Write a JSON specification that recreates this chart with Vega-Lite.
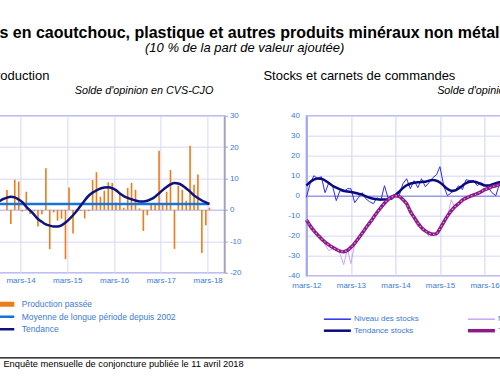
{
 "$schema": "https://vega.github.io/schema/vega-lite/v6.json",
 "background": "white",
 "padding": {"left": -57.6, "top": 24.7, "right": 0, "bottom": 0},
 "config": {
  "font": "Liberation Sans",
  "view": {"stroke": "#b4b4f0", "strokeWidth": 1.5},
  "axis": {"labelFont": "Liberation Sans", "labelFontSize": 8, "labelColor": "#3a7bd5", "gridColor": "#d6d6fa", "gridWidth": 1, "tickColor": "#a0a0b8", "titleFont": "Liberation Sans", "labelFlush": false, "labelOverlap": false},
  "title": {"font": "Liberation Sans", "color": "#000000", "subtitleColor": "#000000", "subtitleFont": "Liberation Sans"},
  "legend": {"labelFont": "Liberation Sans", "labelFontSize": 8.5, "labelColor": "#3a7bd5", "padding": 0, "symbolType": "M-6.75,0H6.75", "symbolSize": 16, "titlePadding": 0, "gridAlign": "all"}
 },
 "datasets": {
  "prod": [
   {"d":"2013-11-15","v":6.3},{"d":"2013-12-15","v":-4.5},{"d":"2014-01-15","v":9.6},{"d":"2014-02-15","v":9.0},
   {"d":"2014-03-15","v":-0.5},{"d":"2014-04-15","v":5.8},{"d":"2014-05-15","v":-1.3},{"d":"2014-06-15","v":-0.4},
   {"d":"2014-07-15","v":-5.3},{"d":"2014-08-15","v":-1.4},{"d":"2014-09-15","v":13.3},{"d":"2014-10-15","v":-12.5},
   {"d":"2014-11-15","v":-0.8},{"d":"2014-12-15","v":-3.4},{"d":"2015-01-15","v":-2.8},{"d":"2015-02-15","v":-15.7},
   {"d":"2015-03-15","v":7.1},{"d":"2015-04-15","v":-7.5},{"d":"2015-05-15","v":0.4},{"d":"2015-06-15","v":-0.3},
   {"d":"2015-07-15","v":-2.7},{"d":"2015-08-15","v":-0.4},{"d":"2015-09-15","v":9.5},{"d":"2015-10-15","v":12.0},
   {"d":"2015-11-15","v":4.2},{"d":"2015-12-15","v":6.1},{"d":"2016-01-15","v":8.8},{"d":"2016-02-15","v":8.6},
   {"d":"2016-03-15","v":2.3},{"d":"2016-04-15","v":5.3},{"d":"2016-05-15","v":0.7},{"d":"2016-06-15","v":7.0},
   {"d":"2016-07-15","v":8.6},{"d":"2016-08-15","v":6.4},{"d":"2016-09-15","v":0.5},{"d":"2016-10-15","v":-6.7},
   {"d":"2016-11-15","v":-1.7},{"d":"2016-12-15","v":1.7},{"d":"2017-01-15","v":1.7},{"d":"2017-02-15","v":18.8},
   {"d":"2017-03-15","v":1.5},{"d":"2017-04-15","v":5.8},{"d":"2017-05-15","v":12.7},{"d":"2017-06-15","v":-12.4},
   {"d":"2017-07-15","v":7.7},{"d":"2017-08-15","v":6.4},{"d":"2017-09-15","v":2.9},{"d":"2017-10-15","v":20.4},
   {"d":"2017-11-15","v":8.0},{"d":"2017-12-15","v":11.3},{"d":"2018-01-15","v":-13.7},{"d":"2018-02-15","v":-4.9},
   {"d":"2018-03-15","v":0.7}
  ],
  "tend": [
   {"d":"2013-09-15","v":2.7},{"d":"2013-10-15","v":3.4},{"d":"2013-11-15","v":3.9},{"d":"2013-12-15","v":4.2},
   {"d":"2014-01-15","v":4.0},{"d":"2014-02-15","v":3.3},{"d":"2014-03-15","v":2.5},{"d":"2014-04-15","v":1.0},
   {"d":"2014-05-15","v":-0.2},{"d":"2014-06-15","v":-1.5},{"d":"2014-07-15","v":-2.9},{"d":"2014-08-15","v":-3.8},
   {"d":"2014-09-15","v":-4.6},{"d":"2014-10-15","v":-5.0},{"d":"2014-11-15","v":-5.3},{"d":"2014-12-15","v":-5.3},
   {"d":"2015-01-15","v":-4.9},{"d":"2015-02-15","v":-4.0},{"d":"2015-03-15","v":-3.0},{"d":"2015-04-15","v":-1.7},
   {"d":"2015-05-15","v":-0.3},{"d":"2015-06-15","v":1.4},{"d":"2015-07-15","v":3.0},{"d":"2015-08-15","v":4.5},
   {"d":"2015-09-15","v":5.5},{"d":"2015-10-15","v":6.2},{"d":"2015-11-15","v":6.8},{"d":"2015-12-15","v":7.1},
   {"d":"2016-01-15","v":7.2},{"d":"2016-02-15","v":6.9},{"d":"2016-03-15","v":6.3},{"d":"2016-04-15","v":5.2},
   {"d":"2016-05-15","v":4.4},{"d":"2016-06-15","v":3.8},{"d":"2016-07-15","v":3.4},{"d":"2016-08-15","v":3.0},
   {"d":"2016-09-15","v":2.7},{"d":"2016-10-15","v":2.7},{"d":"2016-11-15","v":2.9},{"d":"2016-12-15","v":3.4},
   {"d":"2017-01-15","v":4.2},{"d":"2017-02-15","v":5.3},{"d":"2017-03-15","v":6.3},{"d":"2017-04-15","v":7.3},
   {"d":"2017-05-15","v":8.1},{"d":"2017-06-15","v":8.6},{"d":"2017-07-15","v":8.4},{"d":"2017-08-15","v":7.8},
   {"d":"2017-09-15","v":6.8},{"d":"2017-10-15","v":5.8},{"d":"2017-11-15","v":4.6},{"d":"2017-12-15","v":3.8},
   {"d":"2018-01-15","v":3.0},{"d":"2018-02-15","v":2.4},{"d":"2018-03-15","v":1.9}
  ],
  "moy": [{"d":"2013-08-15","v":1.9},{"d":"2018-03-15","v":1.9}],
  "stk": [
   {"d":"2012-03-01","ns":-0.8,"ts":5.0,"nc":-12,"tc":-12.1},
   {"d":"2012-04-01","ns":6,"ts":6.8,"nc":-16.5,"tc":-15},
   {"d":"2012-05-01","ns":10,"ts":8.0,"nc":-18,"tc":-17.5},
   {"d":"2012-06-01","ns":8.5,"ts":8.6,"nc":-20.5,"tc":-19.6},
   {"d":"2012-07-01","ns":9.5,"ts":8.5,"nc":-19.8,"tc":-21.5},
   {"d":"2012-08-01","ns":1.5,"ts":7.6,"nc":-24.5,"tc":-23.2},
   {"d":"2012-09-01","ns":6.5,"ts":6.3,"nc":-27.5,"tc":-24.6},
   {"d":"2012-10-01","ns":5,"ts":5.0,"nc":-26.5,"tc":-25.8},
   {"d":"2012-11-01","ns":-2.5,"ts":4.0,"nc":-26,"tc":-26.9},
   {"d":"2012-12-01","ns":2.5,"ts":3.2,"nc":-29,"tc":-27.7},
   {"d":"2013-01-01","ns":2,"ts":2.5,"nc":-34.5,"tc":-28.0},
   {"d":"2013-02-01","ns":3.5,"ts":2.1,"nc":-26.5,"tc":-27.3},
   {"d":"2013-03-01","ns":3.5,"ts":1.9,"nc":-34,"tc":-25.8},
   {"d":"2013-04-01","ns":-3.5,"ts":1.5,"nc":-24,"tc":-23.8},
   {"d":"2013-05-01","ns":-1,"ts":1.0,"nc":-22,"tc":-21.4},
   {"d":"2013-06-01","ns":1.5,"ts":0.5,"nc":-18,"tc":-18.8},
   {"d":"2013-07-01","ns":-1.5,"ts":-0.3,"nc":-16.5,"tc":-16.2},
   {"d":"2013-08-01","ns":-3,"ts":-1.0,"nc":-13,"tc":-13.6},
   {"d":"2013-09-01","ns":-4,"ts":-1.5,"nc":-11.5,"tc":-11.0},
   {"d":"2013-10-01","ns":-1,"ts":-1.8,"nc":-8,"tc":-8.4},
   {"d":"2013-11-01","ns":-2.5,"ts":-1.9,"nc":-6.5,"tc":-6.0},
   {"d":"2013-12-01","ns":5,"ts":-1.9,"nc":-3,"tc":-3.8},
   {"d":"2014-01-01","ns":-1.5,"ts":-1.6,"nc":-2.5,"tc":-1.9},
   {"d":"2014-02-01","ns":-2,"ts":-0.9,"nc":-0.5,"tc":-0.6},
   {"d":"2014-03-01","ns":0,"ts":0.3,"nc":0.5,"tc":0},
   {"d":"2014-04-01","ns":0,"ts":2.0,"nc":-1,"tc":-0.4},
   {"d":"2014-05-01","ns":6,"ts":3.8,"nc":-1.5,"tc":-1.9},
   {"d":"2014-06-01","ns":8.5,"ts":5.2,"nc":-4.5,"tc":-4.0},
   {"d":"2014-07-01","ns":3.5,"ts":6.0,"nc":-7,"tc":-7.8},
   {"d":"2014-08-01","ns":7.5,"ts":6.4,"nc":-12,"tc":-10.8},
   {"d":"2014-09-01","ns":4,"ts":6.7,"nc":-15.5,"tc":-13.7},
   {"d":"2014-10-01","ns":8.5,"ts":6.9,"nc":-15.5,"tc":-16.0},
   {"d":"2014-11-01","ns":4.5,"ts":7.0,"nc":-17,"tc":-17.6},
   {"d":"2014-12-01","ns":6.5,"ts":7.5,"nc":-20.5,"tc":-18.7},
   {"d":"2015-01-01","ns":9,"ts":7.8,"nc":-18.5,"tc":-19.3},
   {"d":"2015-02-01","ns":10.5,"ts":7.5,"nc":-19.5,"tc":-19.0},
   {"d":"2015-03-01","ns":14.5,"ts":6.6,"nc":-16,"tc":-16.5},
   {"d":"2015-04-01","ns":5,"ts":5.0,"nc":-13,"tc":-13.2},
   {"d":"2015-05-01","ns":0,"ts":3.4,"nc":-11,"tc":-10.2},
   {"d":"2015-06-01","ns":1.5,"ts":2.5,"nc":-2,"tc":-7.6},
   {"d":"2015-07-01","ns":2.5,"ts":2.6,"nc":-6,"tc":-5.5},
   {"d":"2015-08-01","ns":5,"ts":3.6,"nc":-4.5,"tc":-4.0},
   {"d":"2015-09-01","ns":3,"ts":5.0,"nc":-3,"tc":-2.2},
   {"d":"2015-10-01","ns":8,"ts":6.3,"nc":-1,"tc":-1.2},
   {"d":"2015-11-01","ns":7.5,"ts":7.0,"nc":-0.5,"tc":-0.4},
   {"d":"2015-12-01","ns":7.5,"ts":7.1,"nc":0.5,"tc":0.4},
   {"d":"2016-01-01","ns":5,"ts":6.6,"nc":1,"tc":1.0},
   {"d":"2016-02-01","ns":6.5,"ts":5.8,"nc":2.5,"tc":2.0},
   {"d":"2016-03-01","ns":5.5,"ts":5.1,"nc":2.5,"tc":3.0},
   {"d":"2016-04-01","ns":4,"ts":5.1,"nc":4,"tc":3.6},
   {"d":"2016-05-01","ns":1.5,"ts":5.6,"nc":4.5,"tc":4.5},
   {"d":"2016-06-01","ns":0,"ts":6.2,"nc":5.5,"tc":5.0},
   {"d":"2016-07-01","ns":6,"ts":6.7,"nc":5,"tc":5.5},
   {"d":"2016-08-01","ns":8,"ts":7.0,"nc":7,"tc":6.3},
   {"d":"2016-09-01","ns":6,"ts":7.2,"nc":7,"tc":6.8},
   {"d":"2016-10-01","ns":7,"ts":7.3,"nc":7.5,"tc":7.0}
  ]
 },
 "spacing": 20.1,
 "vconcat": [
  {
   "title": {"text": "Produits en caoutchouc, plastique et autres produits minéraux non métalliques", "subtitle": "(10 % de la part de valeur ajoutée)", "anchor": "middle", "fontSize": 16, "fontWeight": "bold", "subtitleFontSize": 13, "subtitleFontStyle": "italic", "subtitleFontWeight": "normal", "subtitlePadding": 1, "offset": 15, "dx": -41.7},
   "spacing": 20,
   "resolve": {"scale": {"color": "independent"}, "legend": {"color": "independent"}},
   "hconcat": [
    {
     "width": 240, "height": 157,
     "title": {"text": "Production", "anchor": "start", "frame": "group", "dx": 2.9, "fontSize": 13, "fontWeight": "normal", "baseline": "alphabetic", "offset": -8.5},
     "encoding": {
      "x": {"field": "d", "type": "temporal",
            "scale": {"type": "utc", "domain": [{"year": 2013, "month": 7, "date": 1, "utc": true}, {"year": 2018, "month": 6, "date": 1, "utc": true}]},
            "axis": {"values": [{"year": 2014, "month": 3, "date": 1, "utc": true}, {"year": 2015, "month": 3, "date": 1, "utc": true}, {"year": 2016, "month": 3, "date": 1, "utc": true}, {"year": 2017, "month": 3, "date": 1, "utc": true}, {"year": 2018, "month": 3, "date": 1, "utc": true}],
                     "labelExpr": "'mars-' + utcFormat(datum.value, '%y')", "grid": true, "domain": false, "ticks": false, "labelPadding": 3.7, "title": null}},
      "y": {"field": "v", "type": "quantitative",
            "scale": {"domain": [-20, 30], "nice": false, "zero": false},
            "axis": {"orient": "right", "values": [-20, -10, 0, 10, 20, 30], "labelExpr": "'' + datum.value", "labelOverlap": false, "tickCount": 6,
                     "grid": true, "gridColor": {"condition": {"test": "datum.value === 0", "value": "#a8a8ec"}, "value": "#d6d6fa"},
                     "domain": true, "domainColor": "#a0a0b8", "domainWidth": 1.5, "ticks": true, "tickSize": 3,
                     "labelAlign": "left", "labelPadding": 2,
                     "title": "Solde d'opinion en CVS-CJO", "titleAngle": 0, "titleAlign": "right", "titleBaseline": "alphabetic",
                     "titleX": -11.5, "titleY": -21.7, "titleFontSize": 10.8, "titleFontStyle": "italic", "titleFontWeight": "normal", "titleColor": "#000000"}}
     },
     "layer": [
      {
       "data": {"name": "prod"},
       "mark": {"type": "bar", "color": "#EE7B16", "width": 1.6},
       "encoding": {}
      },
      {
       "data": {"name": "moy"},
       "mark": {"type": "line", "strokeWidth": 2.5},
       "encoding": {
        "color": {"datum": "Moyenne de longue période depuis 2002", "type": "nominal",
                  "scale": {"domain": ["Production passée", "Moyenne de longue période depuis 2002", "Tendance"], "range": ["#EE7B16", "#1673D8", "#0D1480"]},
                  "legend": {"orient": "none", "legendX": 12.1, "legendY": 184.3, "title": null, "direction": "vertical", "labelOffset": 16.8, "rowPadding": 3.5,
                             "encode": {"symbols": {"update": {"strokeJoin": {"value": "round"}, "strokeWidth": {"signal": "datum.value === 'Production passée' ? 5 : 2.5"}}}}}}
       }
      },
      {
       "data": {"name": "tend"},
       "mark": {"type": "line", "strokeWidth": 2.5, "interpolate": "monotone"},
       "encoding": {
        "color": {"datum": "Tendance", "type": "nominal"}
       }
      }
     ]
    },
    {
     "width": 277, "height": 160,
     "title": {"text": "Stocks et carnets de commandes", "anchor": "start", "frame": "group", "dx": -43, "fontSize": 13, "fontWeight": "normal", "baseline": "alphabetic", "offset": -8.5},
     "data": {"name": "stk"},
     "transform": [{"fold": ["ns", "ts", "nc", "tc"], "as": ["s", "v"]}],
     "encoding": {
      "x": {"field": "d", "type": "temporal",
            "scale": {"type": "utc", "domain": [{"year": 2012, "month": 3, "date": 1, "utc": true}, {"year": 2018, "month": 5, "date": 20, "utc": true}]},
            "axis": {"values": [{"year": 2012, "month": 3, "date": 1, "utc": true}, {"year": 2013, "month": 3, "date": 1, "utc": true}, {"year": 2014, "month": 3, "date": 1, "utc": true}, {"year": 2015, "month": 3, "date": 1, "utc": true}, {"year": 2016, "month": 3, "date": 1, "utc": true}, {"year": 2017, "month": 3, "date": 1, "utc": true}, {"year": 2018, "month": 3, "date": 1, "utc": true}],
                     "labelExpr": "'mars-' + utcFormat(datum.value, '%y')", "grid": true, "gridColor": "#d0d0f8", "domain": false, "ticks": false, "labelPadding": 5.4, "title": null}},
      "y": {"field": "v", "type": "quantitative",
            "scale": {"domain": [-40, 40], "nice": false},
            "axis": {"orient": "left", "values": [-40, -30, -20, -10, 0, 10, 20, 30, 40], "labelExpr": "'' + datum.value",
                     "grid": true, "gridColor": {"condition": {"test": "datum.value === 0", "value": "#9a9ae8"}, "value": "#d6d6fa"},
                     "gridWidth": {"condition": {"test": "datum.value === 0", "value": 1.5}, "value": 1},
                     "domain": true, "domainColor": "#a6a6f0", "domainWidth": 2, "ticks": false, "labelPadding": 7,
                     "title": "Solde d'opinion en CVS-CJO", "titleAngle": 0, "titleAlign": "right", "titleBaseline": "alphabetic",
                     "titleX": 269, "titleY": -21.7, "titleFontSize": 10.8, "titleFontStyle": "italic", "titleFontWeight": "normal", "titleColor": "#000000"}}
     },
     "layer": [
      {
       "transform": [{"filter": "datum.s === 'ns'"}],
       "mark": {"type": "line", "strokeWidth": 1},
       "encoding": {"color": {"datum": "Niveau des stocks", "type": "nominal",
                   "scale": {"domain": ["Niveau des stocks", "Tendance stocks", "Niveau des carnets", "Tendance carnets"], "range": ["#2b2bf0", "#0a0a7a", "#c9a6f2", "#8a1c88"]},
                   "legend": {"orient": "none", "legendX": 27, "legendY": 199.5, "title": null, "columns": 2, "columnPadding": 43, "labelOffset": 12.5, "rowPadding": 3.5, "labelFontSize": 8,
                              "encode": {"symbols": {"update": {"strokeJoin": {"value": "round"}, "strokeWidth": {"signal": "datum.value === 'Tendance stocks' ? 2.5 : datum.value === 'Tendance carnets' ? 3.5 : 1.5"}}}}}}}
      },
      {
       "transform": [{"filter": "datum.s === 'ts'"}],
       "mark": {"type": "line", "strokeWidth": 2.5, "interpolate": "monotone"},
       "encoding": {"color": {"datum": "Tendance stocks", "type": "nominal"}}
      },
      {
       "transform": [{"filter": "datum.s === 'nc'"}],
       "mark": {"type": "line", "strokeWidth": 1},
       "encoding": {"color": {"datum": "Niveau des carnets", "type": "nominal"}}
      },
      {
       "transform": [{"filter": "datum.s === 'tc'"}],
       "mark": {"type": "line", "strokeWidth": 3.5, "interpolate": "monotone"},
       "encoding": {"color": {"datum": "Tendance carnets", "type": "nominal"}}
      },
      {
       "transform": [{"filter": "datum.s === 'tc'"}],
       "mark": {"type": "line", "strokeWidth": 1.2, "color": "#d890d8", "strokeDash": [1.5, 2.5], "interpolate": "monotone"},
       "encoding": {}
      }
     ]
    }
   ]
  },
  {
   "width": 620, "height": 1,
   "view": {"stroke": null},
   "data": {"values": [{"y": 0}]},
   "mark": {"type": "rule", "color": "#000000", "strokeWidth": 1.2},
   "encoding": {"y": {"field": "y", "type": "quantitative", "axis": null, "scale": {"domain": [0, 1]}}},
   "title": {"text": "Enquête mensuelle de conjoncture publiée le 11 avril 2018", "orient": "bottom", "anchor": "start", "frame": "group", "dx": 19, "fontSize": 9.3, "fontWeight": "normal", "color": "#000000", "offset": 2}
  }
 ]
}
